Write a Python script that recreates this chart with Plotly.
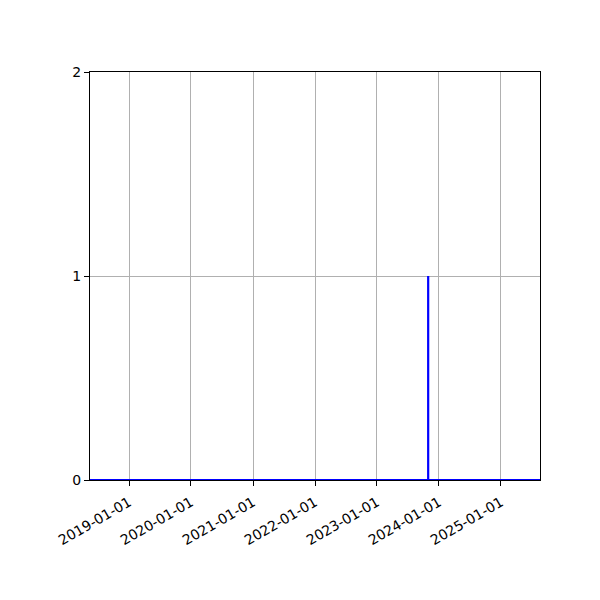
import plotly.graph_objects as go

dates = ['2018-05-16', '2023-10-30', '2023-10-30', '2023-10-30', '2025-08-19']
counts = [0, 0, 1, 0, 0]
year_ticks = ['2019-01-01', '2020-01-01', '2021-01-01', '2022-01-01',
              '2023-01-01', '2024-01-01', '2025-01-01']

fig = go.Figure()

fig.add_trace(go.Scatter(
    x=dates,
    y=counts,
    mode='lines',
    line=dict(color='blue', width=2.2),
    showlegend=False
))

# page body has an 8px default margin, so shift the plot area up-left
fig.update_layout(
    width=600,
    height=600,
    margin=dict(l=82, r=68, t=64, b=128),
    plot_bgcolor='white',
    paper_bgcolor='white',
    font=dict(family='DejaVu Sans', size=14, color='black'),
    xaxis=dict(
        range=[dates[0], dates[-1]],
        tickvals=year_ticks,
        ticktext=year_ticks,
        tickangle=-30,
        ticklabelstandoff=3,
        showgrid=True, gridcolor='#b0b0b0', gridwidth=1,
        showline=True, linecolor='black', linewidth=1, mirror=True,
        ticks='outside', ticklen=5, tickcolor='black',
        zeroline=False,
    ),
    yaxis=dict(
        range=[0, 2],
        tickvals=[0, 1, 2],
        showgrid=True, gridcolor='#b0b0b0', gridwidth=1,
        showline=True, linecolor='black', linewidth=1, mirror=True,
        ticks='outside', ticklen=5, tickcolor='black',
        zeroline=False,
    ),
)

fig.write_html("out.html")
